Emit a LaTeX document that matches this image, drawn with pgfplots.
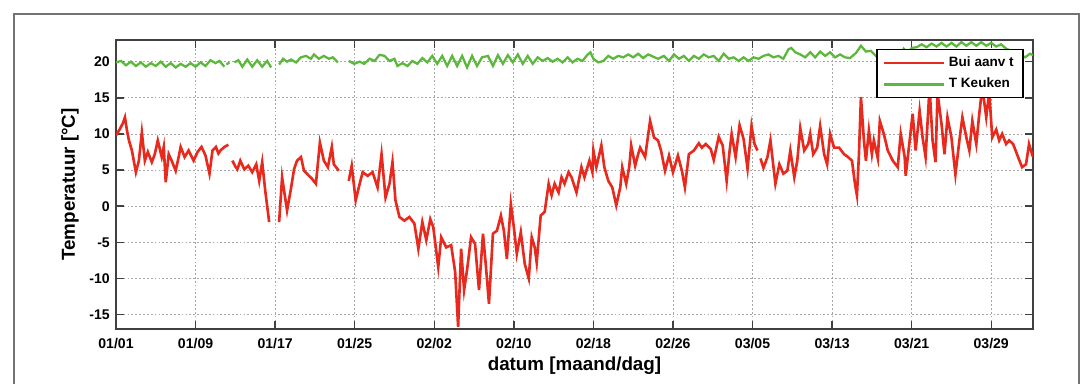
\documentclass[border=0pt]{standalone}
\usepackage{fontspec}
\setmainfont{Liberation Sans}
\usepackage{pgfplots}
\pgfplotsset{compat=1.18}
\definecolor{bui}{RGB}{232,42,30}
\definecolor{keuken}{RGB}{92,184,60}
\begin{document}
\begin{tikzpicture}
\useasboundingbox (0,0) rectangle (21.82cm,7.68cm);
\draw[black!55, line width=0.6pt] (0.28cm,0) -- (0.28cm,7.40cm) -- (21.58cm,7.40cm) -- (21.58cm,0);
\begin{axis}[
  at={(2.32cm,1.10cm)}, anchor=south west,
  width=18.34cm, height=5.78cm, scale only axis,
  xmin=0, xmax=92.2, ymin=-17, ymax=23,
  xtick={0,8,...,88},
  xticklabels={01/01,01/09,01/17,01/25,02/02,02/10,02/18,02/26,03/05,03/13,03/21,03/29},
  ytick={-15,-10,...,20},
  tick align=inside, major tick length=0.16cm,
  grid=major,
  major grid style={black!35, dash pattern=on 1pt off 1.2pt, line width=0.45pt},
  axis line style={black!75, line width=0.8pt},
  tick style={black!75, line width=0.8pt},
  ticklabel style={font=\bfseries\fontsize{8}{9}\selectfont},
  xticklabel style={yshift=-1.5pt},
  /pgf/number format/assume math mode=true,
  xlabel={datum [maand/dag]},
  ylabel={Temperatuur [°C]},
  label style={font=\bfseries\fontsize{10.7}{12}\selectfont},
  xlabel style={at={(axis description cs:0.5,-0.128)}, anchor=center},
  ylabel style={at={(axis description cs:-0.0502,0.5)}, anchor=center},
  unbounded coords=jump,
  legend cell align=left,
  legend style={at={(0.990,0.969)}, anchor=north east, draw=black, line width=0.8pt,
    font=\bfseries\fontsize{7.7}{9}\selectfont, inner xsep=0.12cm, inner ysep=0.07cm,
    row sep=0.04cm},
  legend image code/.code={\draw[#1,line width=1.4pt] (0cm,0cm) -- (1.2cm,0cm);},
]
\addplot[bui, line width=1.5pt] table {
x y
0.0 9.8
0.4 10.7
0.7 11.5
0.9 12.3
1.1 10.5
1.3 9.1
1.6 7.7
2.0 4.7
2.3 6.3
2.6 10.2
2.9 6.3
3.2 7.5
3.6 6.1
3.9 7.2
4.2 9.1
4.6 6.8
4.8 8.2
5.0 3.3
5.3 7.2
5.6 6.3
6.0 4.9
6.3 6.8
6.5 8.2
6.9 6.8
7.3 7.7
7.8 6.3
8.2 7.5
8.6 8.2
9.0 7.0
9.4 4.5
9.7 7.7
10.05 8.2
10.3 7.3
10.5 7.7
10.9 8.2
11.3 8.5
11.5 nan
11.7 6.3
12.0 5.5
12.2 5.1
12.5 6.3
12.9 5.1
13.3 5.6
13.7 4.7
14.1 5.8
14.4 3.5
14.7 6.1
15.0 2.2
15.2 0.0
15.4 -2.2
15.9 nan
16.4 -2.2
16.7 4.0
17.2 -0.6
17.6 2.5
17.9 5.1
18.2 6.3
18.6 6.8
18.9 4.9
19.4 4.2
19.7 3.8
20.1 3.1
20.5 8.8
20.9 6.3
21.3 5.4
21.7 8.2
21.9 5.8
22.4 4.9
22.9 nan
23.4 3.5
23.7 5.6
24.1 0.8
24.5 3.1
24.8 4.7
25.3 4.2
25.8 4.7
26.3 2.6
26.7 7.2
27.1 1.2
27.5 3.1
27.8 6.1
28.1 0.8
28.5 -1.5
29.0 -2.0
29.5 -1.5
30.0 -2.4
30.4 -5.9
30.8 -2.2
31.2 -4.7
31.6 -1.8
31.9 -2.9
32.4 -8.4
32.7 -4.3
33.2 -5.7
33.7 -5.4
34.1 -9.1
34.4 -16.7
34.7 -5.9
35.0 -11.6
35.3 -8.8
35.7 -4.3
36.1 -5.2
36.5 -11.6
36.9 -3.8
37.2 -8.4
37.5 -13.5
37.9 -3.8
38.3 -3.4
38.7 -1.3
39.0 -3.4
39.3 -7.3
39.7 0.3
40.0 -2.9
40.3 -6.6
40.7 -3.6
41.1 -8.0
41.5 -10.0
41.8 -4.3
42.1 -5.7
42.3 -7.8
42.7 -1.3
43.1 -0.8
43.5 3.1
43.8 1.5
44.1 3.1
44.5 1.9
44.8 4.0
45.1 3.1
45.5 4.7
45.8 4.0
46.3 1.9
46.8 5.4
47.1 4.0
47.6 6.3
47.9 4.7
48.0 7.7
48.3 5.4
48.8 8.4
49.1 5.4
49.5 3.5
49.9 2.6
50.3 0.1
50.7 2.6
50.9 5.4
51.3 3.1
51.6 5.4
51.8 8.4
52.2 5.6
52.5 7.2
52.7 8.1
53.2 6.8
53.7 11.8
54.1 9.5
54.5 9.1
54.8 7.7
55.2 4.9
55.6 7.0
56.0 4.7
56.5 7.0
56.9 4.9
57.2 2.6
57.6 7.2
58.1 7.7
58.6 8.7
58.9 8.1
59.3 8.6
59.8 7.9
60.1 6.4
60.6 9.6
61.0 8.4
61.4 3.5
61.7 7.7
61.9 10.0
62.3 6.8
62.7 11.2
63.1 9.3
63.5 5.2
63.9 11.1
64.2 8.6
64.5 7.7
64.65 nan
64.8 6.6
65.1 5.3
65.5 6.8
65.8 9.1
66.3 3.1
66.7 5.8
67.1 4.5
67.5 4.9
67.8 7.7
68.2 4.0
68.5 6.3
68.8 10.8
69.2 7.7
69.6 8.6
69.8 10.0
70.1 7.2
70.5 8.1
70.8 11.1
71.2 7.2
71.5 5.8
71.8 10.0
72.2 8.1
72.7 8.1
73.2 7.2
73.6 6.8
74.0 6.3
74.3 3.1
74.5 1.5
74.7 7.2
74.9 15.1
75.2 9.1
75.4 6.3
75.7 10.5
76.0 7.2
76.2 9.1
76.6 6.6
76.8 11.8
77.2 10.0
77.6 7.7
78.1 6.3
78.6 5.4
78.9 10.0
79.3 6.8
79.4 4.2
79.8 9.1
80.1 12.8
80.4 7.7
80.8 13.2
81.1 9.5
81.4 6.8
81.8 16.5
82.1 9.1
82.4 6.1
82.6 15.7
83.0 11.4
83.3 7.2
83.6 12.3
84.0 9.5
84.4 4.4
84.8 9.1
85.1 12.3
85.5 9.5
85.8 7.7
86.1 11.8
86.5 8.6
86.8 12.8
87.1 16.5
87.5 12.3
87.8 15.8
88.1 9.5
88.5 10.6
88.8 9.1
89.1 10.0
89.5 8.6
89.8 9.1
90.2 8.6
90.7 6.8
91.1 5.4
91.5 5.8
91.8 8.6
92.2 6.8
};
\addlegendentry{Bui aanv t}
\addplot[keuken, line width=1.3pt] table {
x y
0.0 19.9
0.5 20.1
1.0 19.5
1.5 20.0
2.0 19.4
2.5 19.9
3.0 19.3
3.5 19.8
4.0 19.4
4.5 20.0
5.0 19.3
5.5 19.8
6.0 19.2
6.5 19.7
7.0 19.3
7.5 19.8
8.0 19.3
8.5 19.9
9.0 19.4
9.5 20.2
10.0 19.8
10.4 20.1
10.9 19.3
11.0 nan
11.1 19.6
11.4 19.9
11.6 nan
11.9 19.9
12.3 20.2
12.7 19.3
13.2 20.3
13.7 19.3
14.2 20.2
14.7 19.3
15.2 20.1
15.6 19.2
16.0 nan
16.4 19.6
16.8 20.4
17.2 20.0
17.6 20.3
18.1 19.9
18.6 20.6
19.1 20.8
19.6 20.4
19.9 21.0
20.4 20.4
20.9 20.8
21.4 20.4
21.8 20.6
22.3 19.9
22.8 nan
23.4 20.1
23.95 19.7
24.5 20.0
24.95 19.7
25.5 20.4
26.0 20.1
26.5 20.95
27.0 20.8
27.5 20.1
28.0 20.4
28.3 19.4
28.8 19.8
29.3 19.4
29.8 20.1
30.3 19.7
30.8 20.5
31.3 19.9
31.8 20.8
32.3 19.7
32.8 20.8
33.3 19.4
33.8 20.8
34.3 19.4
34.8 20.8
35.3 19.2
35.8 20.8
36.3 19.4
36.8 20.6
37.4 20.8
37.9 19.4
38.4 20.9
38.9 19.7
39.4 20.9
39.9 19.9
40.4 21.0
40.9 19.7
41.4 20.8
41.9 19.7
42.4 20.6
42.9 20.1
43.4 20.5
43.9 20.0
44.4 20.4
44.9 19.9
45.4 20.6
45.9 19.9
46.4 20.4
46.9 20.1
47.4 20.95
47.7 21.3
48.0 20.4
48.5 19.9
49.0 20.1
49.5 20.8
50.0 20.4
50.5 20.8
51.0 20.6
51.5 21.0
52.0 20.6
52.5 21.1
53.0 20.5
53.5 21.0
54.0 20.7
54.5 20.4
55.1 20.8
55.6 20.1
56.1 21.0
56.6 20.4
57.1 20.8
57.6 20.1
58.1 20.8
58.6 20.4
59.1 21.0
59.6 20.6
60.1 20.8
60.6 20.1
61.1 21.1
61.6 20.4
62.1 20.6
62.6 20.1
63.1 20.6
63.6 20.1
64.1 20.6
64.6 20.4
65.1 20.8
65.6 21.0
66.1 20.6
66.6 20.8
67.1 20.4
67.6 21.7
67.9 21.9
68.3 21.3
68.8 21.0
69.3 20.6
69.8 21.3
70.3 20.6
70.8 21.4
71.3 20.8
71.8 21.3
72.3 20.6
72.8 21.0
73.3 20.6
73.8 20.5
74.4 21.2
74.9 22.2
75.4 21.4
75.9 21.5
76.4 20.8
76.9 21.3
77.4 21.1
77.9 20.9
78.4 21.4
78.9 21.0
79.2 21.8
79.6 21.2
80.0 21.9
80.5 22.0
81.0 22.4
81.5 22.0
82.0 22.5
82.5 22.1
83.0 22.6
83.5 22.1
84.0 22.6
84.5 22.1
85.0 22.7
85.5 22.2
86.0 22.7
86.5 22.2
87.0 22.7
87.5 22.2
88.0 22.6
88.5 22.1
89.0 22.4
89.5 21.8
90.0 21.5
90.5 21.2
91.0 20.9
91.4 20.6
91.9 21.1
92.2 20.9
};
\addlegendentry{T Keuken}
\end{axis}
\end{tikzpicture}
\end{document}
